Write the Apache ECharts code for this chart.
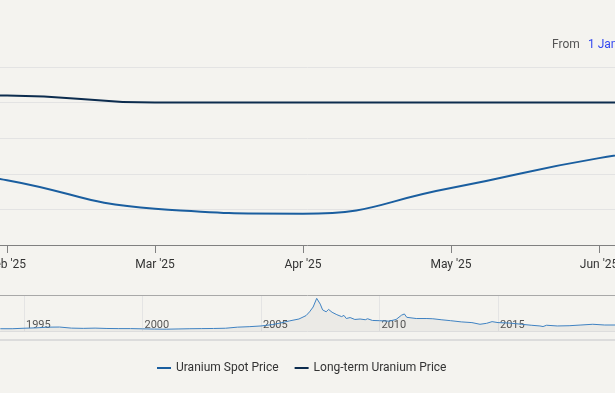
<!DOCTYPE html>
<html><head><meta charset="utf-8">
<script src="https://cdn.jsdelivr.net/npm/echarts@6/dist/echarts.min.js"></script>
<style>html,body{margin:0;padding:0;background:#f4f3ef}#c{width:615px;height:393px}</style>
</head><body><div id="c"></div>
<script>
// ---- data ----
const monthNames = ['Jan', 'Feb', 'Mar', 'Apr', 'May', 'Jun', 'Jul'];
const monthIndex = [0, 1, 2, 3, 4, 5, 6];
const spotPrice = [72.6, 69.1, 65.1, 64.4, 68.0, 72.2, 75.0];
const longTermPrice = [81.0, 81.0, 80.0, 80.0, 80.0, 80.0, 80.0];
const monthTicks = [1, 2, 3, 4, 5];
const yearSuffix = " '25";
const seriesNames = ['Uranium Spot Price', 'Long-term Uranium Price'];

const navYears = [1994.0, 1994.5, 1995.0, 1995.5, 1996.0, 1996.5, 1997.0, 1997.5, 1998.0, 1998.5,
  1999.0, 1999.5, 2000.0, 2000.5, 2001.0, 2001.5, 2002.0, 2002.5, 2003.0, 2003.5,
  2004.0, 2004.5, 2005.0, 2005.5, 2005.8, 2006.2, 2006.6, 2006.9, 2007.05, 2007.2,
  2007.35, 2007.5, 2007.6, 2007.75, 2007.85, 2008.0, 2008.2, 2008.4, 2008.5, 2008.6,
  2008.76, 2008.96, 2009.18, 2009.4, 2009.5, 2009.7, 2010.0, 2010.4, 2010.7, 2010.93,
  2011.05, 2011.15, 2011.55, 2012.0, 2012.25, 2012.6, 2013.0, 2013.45, 2013.9, 2014.24,
  2014.52, 2014.75, 2015.0, 2015.5, 2016.0, 2016.4, 2016.77, 2016.9, 2017.05, 2017.5,
  2018.0, 2018.5, 2019.0, 2019.5, 2020.0, 2020.5];
const navSpot = [9.5, 9.5, 11.5, 13, 16, 16.5, 12, 11, 12, 10.5,
  10, 10, 9, 8, 7.5, 8.5, 9.5, 10, 10.5, 11.5,
  16, 18, 21, 27, 33, 42, 50, 64, 80, 100,
  136, 112, 88, 80, 90, 78, 68, 60, 65, 52,
  56, 48, 50, 47, 51, 44, 43, 41, 48, 66,
  71, 57, 52, 52, 51, 47, 43, 38, 35, 28,
  32, 39, 35, 33, 28, 24, 21, 18.5, 24, 21,
  22, 25, 28, 25, 25, 30];
const navTickYears = [1995, 2000, 2005, 2010, 2015];

// ---- chart ----
const chart = echarts.init(document.getElementById('c'), null, {renderer: 'canvas'});
const font = 'Roboto';
const option = {
  backgroundColor: '#f4f3ef',
  animation: false,
  textStyle: {fontFamily: font},
  legend: {
    data: seriesNames,
    bottom: 19,
    left: 157,
    padding: 0,
    icon: 'rect',
    itemWidth: 14,
    itemHeight: 2,
    itemGap: 16,
    textStyle: {fontFamily: font, fontSize: 12, color: '#333'}
  },
  graphic: [
    {type: 'text', left: 552, top: 39, style: {text: 'From', fill: '#555', font: '12px Roboto'}},
    {type: 'text', left: 588, top: 39, style: {text: '1 Jan 2025', fill: '#3348f0', font: '12px Roboto'}},
    {type: 'rect', left: 0, top: 339, shape: {width: 615, height: 2}, style: {fill: '#dcdcdc'}}
  ],
  grid: [
    {left: 0, right: 0, top: 67, bottom: 148, outerBoundsMode: 'none', containLabel: false},
    {left: 0, right: 0, top: 295, bottom: 62, outerBoundsMode: 'none', containLabel: false}
  ],
  xAxis: [
    {
      type: 'value', gridIndex: 0,
      min: 1 - 7 / 148, max: 5 + 16 / 148,
      axisLine: {show: true, lineStyle: {color: '#808080', width: 1}},
      axisTick: {show: true, length: 8, customValues: monthTicks, lineStyle: {color: '#808080'}},
      axisLabel: {
        customValues: monthTicks, margin: 14, fontSize: 12, color: '#333', fontFamily: font,
        formatter: v => monthNames[Math.round(v)] + yearSuffix
      },
      splitLine: {show: false}
    },
    {
      type: 'value', gridIndex: 1,
      min: 1995 - 24 / 23.7, max: 1995 + 591 / 23.7,
      axisLine: {show: true, lineStyle: {color: '#dddddd'}},
      axisTick: {show: false, customValues: navTickYears},
      axisLabel: {
        customValues: navTickYears, inside: true, margin: 0, align: 'left', padding: [0, 0, 0, 2],
        fontSize: 11, color: '#555', fontFamily: font,
        textBorderColor: '#f4f3ef', textBorderWidth: 2,
        formatter: v => String(Math.round(v))
      },
      splitLine: {show: true, lineStyle: {color: '#e4e4e4'}}
    },
    {
      type: 'value', gridIndex: 1, position: 'top',
      min: 1995 - 24 / 23.7, max: 1995 + 591 / 23.7,
      axisLine: {show: true, lineStyle: {color: '#a8a8a8'}},
      axisTick: {show: false}, axisLabel: {show: false}, splitLine: {show: false}
    }
  ],
  yAxis: [
    {
      type: 'value', gridIndex: 0, min: 60, max: 85, interval: 5,
      axisLine: {show: false}, axisTick: {show: false}, axisLabel: {show: false},
      splitLine: {show: true, lineStyle: {color: '#e3e3e3'}}
    },
    {
      type: 'value', gridIndex: 1, min: 0, max: 150,
      axisLine: {show: false}, axisTick: {show: false}, axisLabel: {show: false},
      splitLine: {show: false}
    }
  ],
  series: [
    {
      name: seriesNames[0], type: 'line', xAxisIndex: 0, yAxisIndex: 0,
      data: monthIndex.map((m, i) => [m, spotPrice[i]]),
      smooth: 0.5, showSymbol: false, color: '#1a5e9f',
      lineStyle: {width: 2, color: '#1a5e9f'}
    },
    {
      name: seriesNames[1], type: 'line', xAxisIndex: 0, yAxisIndex: 0,
      data: monthIndex.map((m, i) => [m, longTermPrice[i]]),
      smooth: 0.5, showSymbol: false, color: '#0c2c4e',
      lineStyle: {width: 2, color: '#0c2c4e'}
    },
    {
      name: 'navigator', type: 'line', xAxisIndex: 1, yAxisIndex: 1,
      data: navYears.map((y, i) => [y, navSpot[i]]),
      showSymbol: false, silent: true,
      lineStyle: {width: 1, color: '#3f82c2'},
      areaStyle: {color: 'rgba(0,0,0,0.05)'}
    }
  ]
};
chart.setOption(option);
</script>
</body></html>
